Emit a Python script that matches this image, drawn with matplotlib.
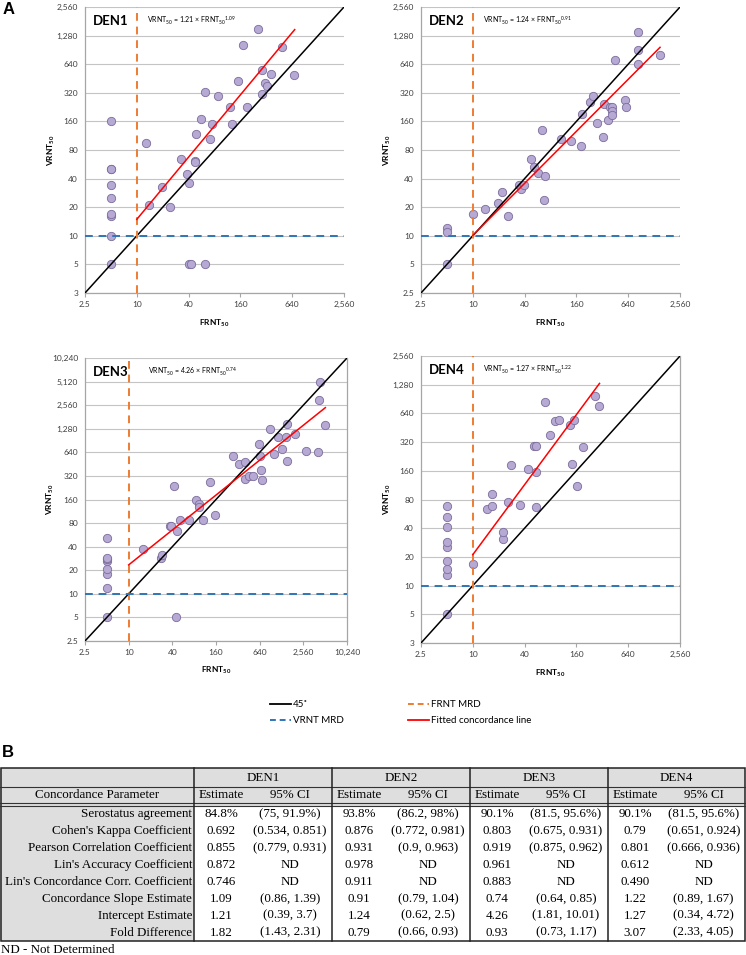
import numpy as np
import matplotlib
matplotlib.use('Agg')
import matplotlib.pyplot as plt
from matplotlib.lines import Line2D
from matplotlib.patches import Rectangle
from matplotlib.ticker import FixedLocator, NullLocator

plt.rcParams['font.family'] = ['Lato', 'DejaVu Sans']
plt.rcParams['mathtext.default'] = 'regular'

# ---- panel A data (FRNT50 vs VRNT50) ----
den1_frnt = [5, 5, 5, 5, 5, 5, 5, 5, 5,
             12.9, 14, 19.7, 24.6, 32.8, 38.6, 40.6, 40, 43, 62.8, 48, 48, 49, 56, 62.8, 70,
             74, 87, 121, 129, 152, 170, 190, 254, 284, 284, 307, 327, 364, 488, 672]
den1_vrnt = [5, 10, 16, 17, 25, 34, 50, 51, 160,
             95, 21, 33, 20, 64, 45, 36, 5, 5, 5, 62, 60, 118, 168, 327, 105,
             150, 295, 228, 151, 428, 1030, 228, 1500, 553, 312, 404, 378, 506, 981, 491]

den2_frnt = [5, 5, 5,
             10, 13.8, 19.6, 21.6, 25.6, 34, 36, 39, 47, 51, 57, 64, 67, 69, 105, 140, 180, 185,
             233, 248, 281, 324, 339, 375, 391, 413, 413, 413, 447, 580, 606, 828, 828, 828, 1500]
den2_vrnt = [5, 12, 11,
             17, 19, 22, 29, 16, 34, 31, 34, 64, 53.5, 46, 129, 24, 43, 105, 99, 88, 191,
             255, 298, 154, 110, 241, 164, 226, 225, 205, 188, 715, 268, 226, 1400, 905, 645, 794]

den3_frnt = [5, 5, 5, 5, 5, 5, 5, 5,
             15.9, 27.8, 28.7, 36.7, 38.7, 42.5, 44.4, 46, 51.4, 67, 85.6, 94.3, 94.3, 107, 133,
             157, 273, 329, 400, 404, 453, 520, 623, 644, 665, 700, 886, 1017, 1153, 1282, 1490,
             1504, 1523, 1965, 2815, 4080, 4220, 4310, 5110]
den3_vrnt = [5, 12, 18, 21, 26, 28, 29, 51.5,
             37.6, 28.9, 31, 72.6, 72.6, 237, 5, 62.6, 88, 88, 160, 140, 127, 88, 267,
             101, 577, 452, 480, 291, 315, 320, 815, 567, 376, 280, 1265, 606, 1019, 697, 1010,
             489, 1480, 1093, 657, 637, 3020, 5020, 1450]

den4_frnt = [5, 5, 5, 5, 5, 5, 5, 5, 5,
             10, 14.8, 16.8, 16.8, 22.7, 22.7, 25.7, 27.6, 35.8, 44.4, 51.6, 55, 54, 55, 68.7,
             78.5, 90, 101, 135.5, 143, 152, 163, 189, 260, 292]
den4_vrnt = [5, 12.9, 14.9, 17.9, 25.7, 29, 40.8, 53, 67.6,
             17, 64, 68.7, 92, 30.7, 36.7, 75.6, 183, 69.7, 166, 292, 290, 66, 155, 850,
             378, 530, 540, 481, 189, 540, 112, 285, 976, 767]

# fitted concordance line end points (x from FRNT MRD to largest FRNT)
den1_fit_x, den1_fit_y = [10, 684], [14.9, 1480]
den2_fit_x, den2_fit_y = [10, 1500], [10.1, 963]
den3_fit_x, den3_fit_y = [10, 5150], [23.4, 2380]
den4_fit_x, den4_fit_y = [10, 297], [21.1, 1320]

den1_eq = ('1.21', '1.09')
den2_eq = ('1.24', '0.91')
den3_eq = ('4.26', '0.74')
den4_eq = ('1.27', '1.22')

ticks_2560 = [2.5, 5, 10, 20, 40, 80, 160, 320, 640, 1280, 2560]
ticks_10240 = ticks_2560 + [5120, 10240]
xticks_2560 = [2.5, 10, 40, 160, 640, 2560]
xticks_10240 = xticks_2560 + [10240]

# ---- panel B table ----
params = ["Serostatus agreement", "Cohen's Kappa Coefficient", "Pearson Correlation Coefficient",
          "Lin's Accuracy Coefficient", "Lin's Concordance Corr. Coefficient",
          "Concordance Slope Estimate", "Intercept Estimate", "Fold Difference"]
den1_est = ["84.8%", "0.692", "0.855", "0.872", "0.746", "1.09", "1.21", "1.82"]
den1_ci = ["(75, 91.9%)", "(0.534, 0.851)", "(0.779, 0.931)", "ND", "ND", "(0.86, 1.39)", "(0.39, 3.7)", "(1.43, 2.31)"]
den2_est = ["93.8%", "0.876", "0.931", "0.978", "0.911", "0.91", "1.24", "0.79"]
den2_ci = ["(86.2, 98%)", "(0.772, 0.981)", "(0.9, 0.963)", "ND", "ND", "(0.79, 1.04)", "(0.62, 2.5)", "(0.66, 0.93)"]
den3_est = ["90.1%", "0.803", "0.919", "0.961", "0.883", "0.74", "4.26", "0.93"]
den3_ci = ["(81.5, 95.6%)", "(0.675, 0.931)", "(0.875, 0.962)", "ND", "ND", "(0.64, 0.85)", "(1.81, 10.01)", "(0.73, 1.17)"]
den4_est = ["90.1%", "0.79", "0.801", "0.612", "0.490", "1.22", "1.27", "3.07"]
den4_ci = ["(81.5, 95.6%)", "(0.651, 0.924)", "(0.666, 0.936)", "ND", "ND", "(0.89, 1.67)", "(0.34, 4.72)", "(2.33, 4.05)"]

C_PT, C_PT_EDGE = '#b6aad4', '#7c6c9c'
C_FRNT, C_VRNT, C_FIT = '#ed7d31', '#2e75b6', '#ff0000'
C_GRID, C_AXIS = '#c4c4c4', '#a6a6a6'

W, H = 746, 955
fig = plt.figure(figsize=(W / 100, H / 100), dpi=100)

# overlay in pixel coordinates for labels and the table
ov = fig.add_axes([0, 0, 1, 1])
ov.set_xlim(0, W)
ov.set_ylim(H, 0)
ov.axis('off')


def fmt(v):
    return '2.5' if v == 2.5 else f'{v:,.0f}'


def panel(rect, name, frnt, vrnt, fit_x, fit_y, eq, top, bottom_lab, right_spine):
    l, t, r, b = rect
    ax = fig.add_axes([l / W, 1 - b / H, (r - l) / W, (b - t) / H])
    ax.set_xscale('log', base=2)
    ax.set_yscale('log', base=2)
    ax.set_xlim(2.5, top)
    ax.set_ylim(2.5, top)
    yt = ticks_10240 if top > 2560 else ticks_2560
    xt = xticks_10240 if top > 2560 else xticks_2560
    ax.yaxis.set_major_locator(FixedLocator(yt))
    ax.xaxis.set_major_locator(FixedLocator(xt))
    ax.yaxis.set_minor_locator(NullLocator())
    ax.xaxis.set_minor_locator(NullLocator())
    ylabs = [fmt(v) for v in yt]
    ylabs[0] = bottom_lab
    ax.set_yticklabels(ylabs, fontsize=6)
    ax.set_xticklabels([fmt(v) for v in xt], fontsize=6)
    ax.tick_params(axis='y', length=0, pad=5, colors='#404040')
    ax.tick_params(axis='x', length=3, pad=3, colors='#404040', color=C_AXIS)
    ax.yaxis.grid(True, color=C_GRID, lw=0.8)
    ax.set_axisbelow(True)
    for s in ['top', 'right']:
        ax.spines[s].set_visible(False)
    if right_spine:
        ax.spines['right'].set_visible(True)
    for s in ['left', 'bottom', 'right']:
        ax.spines[s].set_color(C_AXIS)
        ax.spines[s].set_linewidth(0.9)

    ax.scatter(frnt, vrnt, s=36, fc=C_PT, ec=C_PT_EDGE, lw=0.6, zorder=3)
    ax.plot([2.5, top], [2.5, top], color='black', lw=1.1, zorder=4)
    ax.axvline(10, color=C_FRNT, lw=1.4, ls=(0, (4, 3)), zorder=4)
    ax.axhline(10, color=C_VRNT, lw=1.4, ls=(0, (4, 3)), zorder=4)
    ax.plot(fit_x, fit_y, color=C_FIT, lw=1.1, zorder=5)

    ax.text(0.03, 0.95, name, transform=ax.transAxes, fontsize=9.5, fontweight='bold',
            va='center', ha='left')
    ax.text(0.24, 0.95, 'VRNT$_{50}$ = %s × FRNT$_{50}$$^{%s}$' % eq, transform=ax.transAxes,
            fontsize=5, va='center', ha='left')
    ax.set_xlabel('FRNT$_{50}$', fontsize=6, fontweight='bold')
    ax.set_ylabel('VRNT$_{50}$', fontsize=6, fontweight='bold')
    ax.xaxis.set_label_coords(0.5, -0.085)
    ax.yaxis.set_label_coords(-0.11, 0.5)
    return ax


panel((85, 7, 344, 293), 'DEN1', den1_frnt, den1_vrnt, den1_fit_x, den1_fit_y, den1_eq, 2560, '3', False)
panel((421, 7, 680, 293), 'DEN2', den2_frnt, den2_vrnt, den2_fit_x, den2_fit_y, den2_eq, 2560, '2.5', False)
panel((85, 358, 347, 641), 'DEN3', den3_frnt, den3_vrnt, den3_fit_x, den3_fit_y, den3_eq, 10240, '2.5', True)
panel((421, 356, 680, 643), 'DEN4', den4_frnt, den4_vrnt, den4_fit_x, den4_fit_y, den4_eq, 2560, '3', True)

ov.text(3, 9, 'A', fontsize=12, fontweight='bold', family=['Liberation Sans'], va='center', ha='left')
ov.text(2, 752, 'B', fontsize=12, fontweight='bold', family=['Liberation Sans'], va='center', ha='left')

# legend
handles = [Line2D([], [], color='black', lw=1.3),
           Line2D([], [], color=C_VRNT, lw=1.4, ls=(0, (3, 2))),
           Line2D([], [], color=C_FRNT, lw=1.4, ls=(0, (3, 2))),
           Line2D([], [], color=C_FIT, lw=1.3)]
labels = ['45˚', 'VRNT MRD', 'FRNT MRD', 'Fitted concordance line']
fig.legend(handles, labels, ncol=2, frameon=False, fontsize=7, loc='upper left',
           bbox_to_anchor=(270 / W, 1 - 700 / H), handlelength=2.2, handletextpad=0.15,
           columnspacing=6.6, labelspacing=0.75, borderpad=0, borderaxespad=0)

# table
serif = ['Liberation Serif', 'DejaVu Serif']
fs = 9.4
t_top, t_h1, t_h2, t_data, t_bot = 768, 787, 803, 806, 941
col0 = 194
groups = [194, 332, 470, 608, 745]
split = 54
gray = '#dedede'
ov.add_patch(Rectangle((0, t_top), 745, t_data - t_top, fc=gray, ec='none'))
ov.add_patch(Rectangle((0, t_data), col0, t_bot - t_data, fc=gray, ec='none'))
ov.add_patch(Rectangle((0.5, t_top), 744.5, t_bot - t_top, fc='none', ec='#222222', lw=1.1))
ov.plot([0, 745], [t_h1, t_h1], color='#333333', lw=0.8)
ov.plot([0, 745], [t_h2, t_h2], color='#333333', lw=0.8)
ov.plot([0, 745], [t_data, t_data], color='#333333', lw=0.8)
for gx in groups[:-1]:
    ov.plot([gx, gx], [t_top, t_bot], color='#222222', lw=1.1)

ov.text(col0 / 2, (t_h1 + t_h2) / 2, 'Concordance Parameter', family=serif, fontsize=fs,
        ha='center', va='center')
names = ['DEN1', 'DEN2', 'DEN3', 'DEN4']
ests = [den1_est, den2_est, den3_est, den4_est]
cis = [den1_ci, den2_ci, den3_ci, den4_ci]
row_h = (t_bot - t_data) / len(params)
for gi, name in enumerate(names):
    g0, g1 = groups[gi], groups[gi + 1]
    ov.text((g0 + g1) / 2, (t_top + t_h1) / 2, name, family=serif, fontsize=fs,
            ha='center', va='center')
    ov.text(g0 + split / 2, (t_h1 + t_h2) / 2, 'Estimate', family=serif, fontsize=fs,
            ha='center', va='center')
    ov.text((g0 + split + g1) / 2, (t_h1 + t_h2) / 2, '95% CI', family=serif, fontsize=fs,
            ha='center', va='center')
    for ri in range(len(params)):
        yc = t_data + (ri + 0.5) * row_h
        ov.text(g0 + split / 2, yc, ests[gi][ri], family=serif, fontsize=fs, ha='center', va='center')
        ov.text((g0 + split + g1) / 2, yc, cis[gi][ri], family=serif, fontsize=fs,
                ha='center', va='center')
for ri, p in enumerate(params):
    yc = t_data + (ri + 0.5) * row_h
    ov.text(col0 - 2, yc, p, family=serif, fontsize=fs, ha='right', va='center')

ov.text(1, 950, 'ND - Not Determined', family=serif, fontsize=fs, ha='left', va='center')

fig.savefig('out.png', dpi=100)
